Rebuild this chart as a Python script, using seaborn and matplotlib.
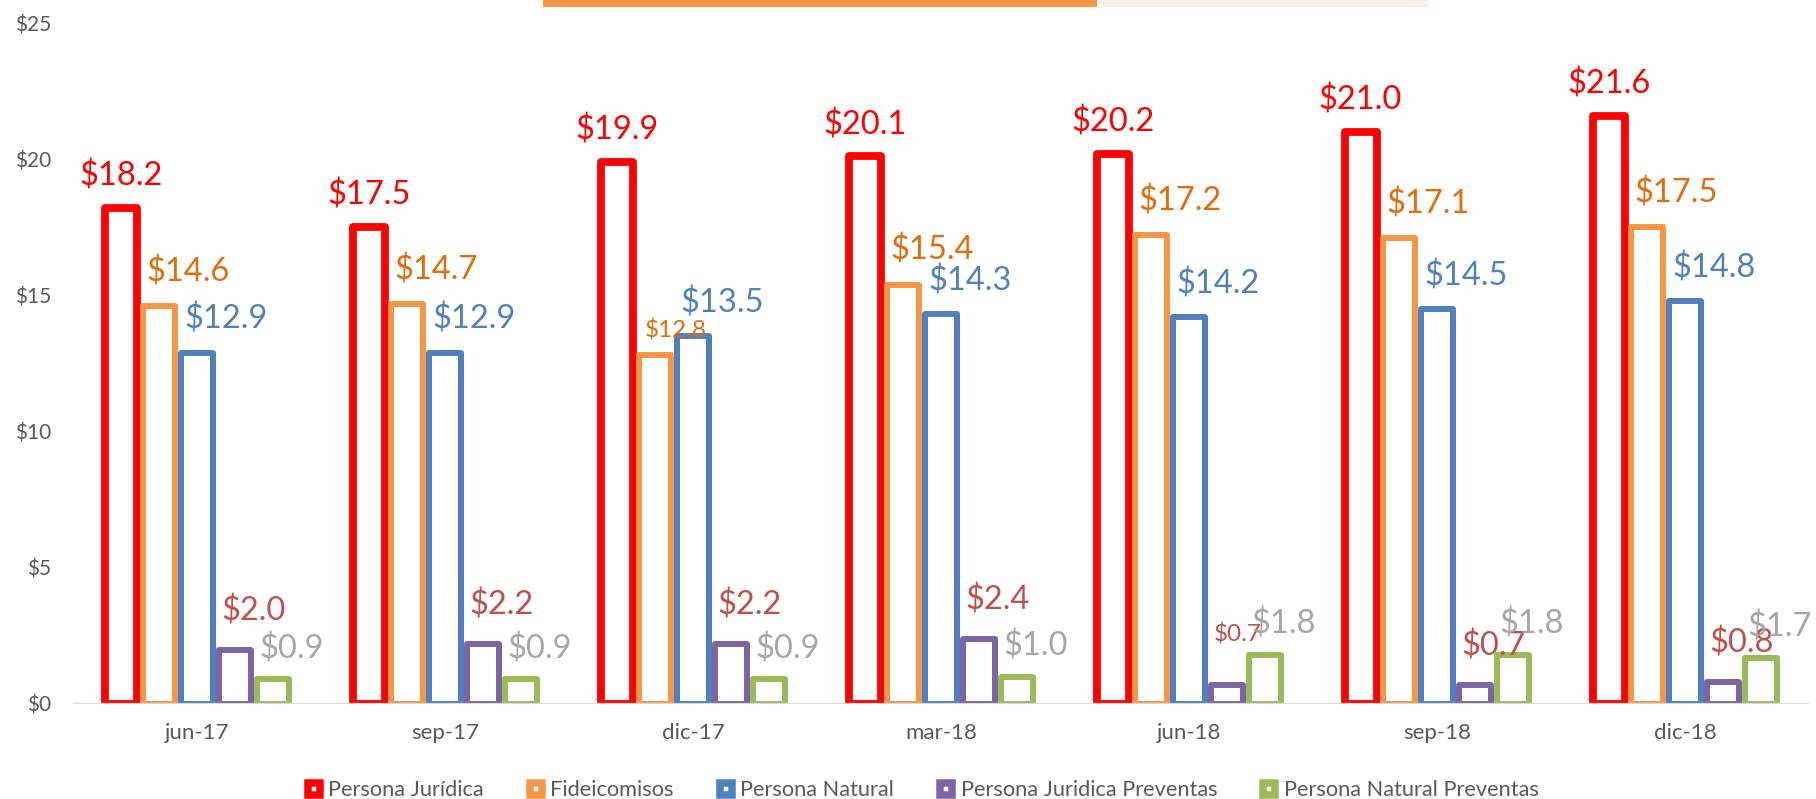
import matplotlib
matplotlib.use("Agg")
import matplotlib.pyplot as plt
from matplotlib.lines import Line2D
from matplotlib.patches import Rectangle
from matplotlib.ticker import FuncFormatter
import seaborn as sns
import pandas as pd

# ------------------------------------------------------------
# data
# ------------------------------------------------------------
periodos = ["jun-17", "sep-17", "dic-17", "mar-18", "jun-18", "sep-18", "dic-18"]
series = ["Persona Jurídica", "Fideicomisos", "Persona Natural",
          "Persona Juridica Preventas", "Persona Natural Preventas"]

persona_juridica = [18.2, 17.5, 19.9, 20.1, 20.2, 21.0, 21.6]
fideicomisos = [14.6, 14.7, 12.8, 15.4, 17.2, 17.1, 17.5]
persona_natural = [12.9, 12.9, 13.5, 14.3, 14.2, 14.5, 14.8]
juridica_preventas = [2.0, 2.2, 2.2, 2.4, 0.7, 0.7, 0.8]
natural_preventas = [0.9, 0.9, 0.9, 1.0, 1.8, 1.8, 1.7]

valores = [persona_juridica, fideicomisos, persona_natural,
           juridica_preventas, natural_preventas]

bar_colors = ["#FF0000", "#F79646", "#4F81BD", "#8064A2", "#9BBB59"]
label_colors = ["#FF0000", "#E46C0A", "#4F81BD", "#C0504D", "#A6A6A6"]

# ------------------------------------------------------------
# style
# ------------------------------------------------------------
sns.set_style("white")
plt.rcParams["font.family"] = ["Lato", "DejaVu Sans"]
GRAY = "#595959"

df = pd.DataFrame([
    {"periodo": p, "serie": s, "monto": v}
    for s, vals in zip(series, valores)
    for p, v in zip(periodos, vals)
])

fig, ax = plt.subplots(figsize=(18.16, 7.99), dpi=100)
fig.subplots_adjust(left=0.0402, right=0.9961, bottom=0.1189, top=0.9712)

sns.barplot(data=df, x="periodo", y="monto", hue="serie", order=periodos,
            hue_order=series, palette=dict(zip(series, bar_colors)),
            fill=False, width=0.77, gap=0.16, linewidth=4.3,
            errorbar=None, legend=False, ax=ax)

# label offsets (points) per series
offsets = [(0, 23), (21, 24.5), (21, 24), (13, 28), (13, 22)]
# labels Excel drew smaller, with their own offsets
small = {(1, 2): (15, 18), (3, 4): (7.5, 36)}

for i, cont in enumerate(ax.containers):
    for j, (patch, v) in enumerate(zip(cont.patches, valores[i])):
        patch.set_joinstyle("round")
        if i == 0:
            patch.set_linewidth(5.6)
        x = patch.get_x() + patch.get_width() / 2
        if (i, j) in small:
            (dx, dy), size = small[(i, j)], 17.5
        else:
            (dx, dy), size = offsets[i], 23.5
        ax.annotate(f"${v:.1f}", (x, v), xytext=(dx, dy),
                    textcoords="offset points", ha="center", va="center",
                    color=label_colors[i], fontsize=size,
                    annotation_clip=False)

ax.axhline(0, color="#D9D9D9", lw=1.6, zorder=5)
ax.set_xlim(-0.5, 6.5)
ax.set_ylim(0, 25)
ax.set_yticks([0, 5, 10, 15, 20, 25])
ax.yaxis.set_major_formatter(FuncFormatter(lambda v, _: f"${v:.0f}"))
ax.set_xlabel("")
ax.set_ylabel("")
for sp in ax.spines.values():
    sp.set_visible(False)
ax.tick_params(axis="x", length=0, pad=14, labelsize=16, labelcolor=GRAY)
ax.tick_params(axis="y", length=0, pad=16, labelsize=15, labelcolor=GRAY)

handles = [Line2D([], [], marker="s", ls="none", markersize=9,
                  markerfacecolor="white", markeredgecolor=c, markeredgewidth=5.4)
           for c in bar_colors]
leg = fig.legend(handles, series, loc="lower center", bbox_to_anchor=(0.507, -0.026),
                 ncol=5, frameon=False, fontsize=15.7, handlelength=1.0,
                 handletextpad=0.15, columnspacing=1.9)
for t in leg.get_texts():
    t.set_color(GRAY)

# strips at the top edge of the source slide
fig.add_artist(Rectangle((543 / 1816, 1 - 7 / 799), 554 / 1816, 7 / 799,
                         transform=fig.transFigure, color="#F79646", lw=0))
fig.add_artist(Rectangle((1099 / 1816, 1 - 7 / 799), 329 / 1816, 7 / 799,
                         transform=fig.transFigure, color="#FDEEE8", lw=0))

plt.savefig("out.png", dpi=100, facecolor="white")
